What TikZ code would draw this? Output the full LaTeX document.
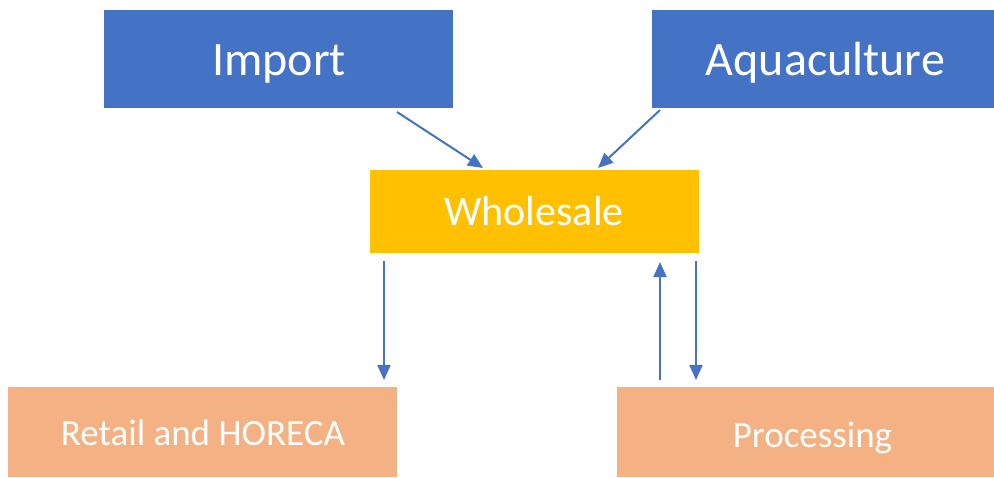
\documentclass[tikz,border=0pt]{standalone}
\usepackage{fontspec}
\setmainfont{Carlito}
\usetikzlibrary{arrows.meta}
\definecolor{blu}{HTML}{4472C4}
\definecolor{ylw}{HTML}{FFC000}
\definecolor{org}{HTML}{F4B183}
\begin{document}
\begin{tikzpicture}[x=1pt,y=-1pt,
  boxa/.style={fill=blu,draw=none,inner sep=0pt,text=white},
  boxw/.style={fill=ylw,draw=none,inner sep=0pt,text=white},
  boxo/.style={fill=org,draw=none,inner sep=0pt,text=white},
  lbl/.style={text=white,inner sep=0pt,anchor=base},
  arr/.style={draw=blu,line width=2pt,-{Triangle[length=15pt,width=13pt]}}]
\useasboundingbox (0,0) rectangle (994,477);
\node[boxa,minimum width=349pt,minimum height=98pt] (imp) at (278.5,59) {};
\node[lbl,font=\fontsize{48}{52}\selectfont] (impt) at (279,75) {Import};
\node[boxa,minimum width=342pt,minimum height=98pt] (aqu) at (823,59) {};
\node[lbl,font=\fontsize{48}{52}\selectfont] (aqut) at (825.5,75) {Aquaculture};
\node[boxw,minimum width=329pt,minimum height=83pt] (who) at (534.5,211.5) {};
\node[lbl,font=\fontsize{42}{46}\selectfont] (whot) at (534,225) {Wholesale};
\node[boxo,minimum width=389pt,minimum height=90pt] (ret) at (202.5,432) {};
\node[lbl,font=\fontsize{37}{41}\selectfont] (rett) at (203,445) {Retail and HORECA};
\node[boxo,minimum width=377pt,minimum height=90pt] (pro) at (805.5,432) {};
\node[lbl,font=\fontsize{37}{41}\selectfont] (prot) at (812.5,447) {Processing};
\coordinate (a1) at (397,112);
\coordinate (a2) at (483,168);
\coordinate (b1) at (660,110);
\coordinate (b2) at (598,168);
\coordinate (c1) at (384,261);
\coordinate (c2) at (384,380);
\coordinate (d1) at (660,380);
\coordinate (d2) at (660,262);
\coordinate (e1) at (696,261);
\coordinate (e2) at (696,380);
\draw[arr] (a1) -- (a2);
\draw[arr] (b1) -- (b2);
\draw[arr] (c1) -- (c2);
\draw[arr] (d1) -- (d2);
\draw[arr] (e1) -- (e2);
\end{tikzpicture}
\end{document}
